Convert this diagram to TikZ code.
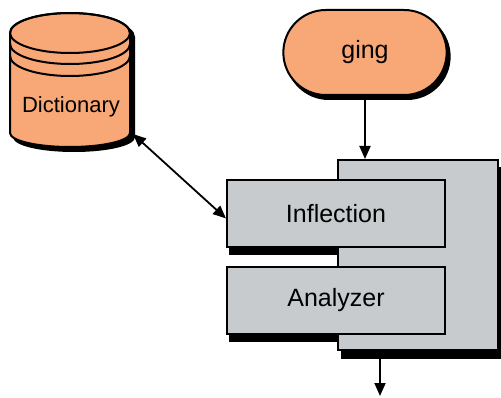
\documentclass[tikz,border=0pt]{standalone}
\usepackage{fontspec}
\setmainfont{Liberation Sans}
\usetikzlibrary{arrows.meta,shapes.misc,shadows,backgrounds}
\definecolor{dictorange}{RGB}{248,168,118}
\definecolor{boxgray}{RGB}{199,203,205}
\begin{document}
\begin{tikzpicture}[x=1pt,y=1pt,
        outline/.style={draw=black,line width=2pt},
        blackshadow/.style 2 args={general shadow={shadow xshift=#1,shadow yshift=-#2,fill=black,draw=black,line width=2pt}},
        box/.style={outline,fill=boxgray,minimum width=218pt,minimum height=67pt,inner sep=0pt,font=\fontsize{25}{30}\selectfont},
        flow/.style={line width=1.8pt,-{Triangle[length=13pt,width=11pt]}}]
        \useasboundingbox (0,0) rectangle (501,397);
        %% Dictionary store
        \foreach \dx/\col in {4/black,0/dictorange}
            \path[outline,fill=\col,shift={(\dx,-\dx)}] (10,364) -- (10,264)
                arc[start angle=180,end angle=360,x radius=60pt,y radius=14pt] -- (130,364)
                arc[start angle=0,end angle=180,x radius=60pt,y radius=20pt] -- cycle;
        \draw[outline] (70,364) ellipse[x radius=60pt,y radius=20pt];
        \foreach \y in {353,341}
            \draw[outline] (10,\y) arc[start angle=180,end angle=360,x radius=60pt,y radius=20pt];
        \node[font=\fontsize{22}{26}\selectfont] (dict) at (71,290) {Dictionary};
        \coordinate (dictport) at (133,263);
        %% Input word
        \node[outline,rounded rectangle,fill=dictorange,minimum width=170pt,minimum height=85pt,
            blackshadow={3pt}{4pt},font=\fontsize{25}{30}\selectfont] (ging) at (365,344.5) {ging};
        %% Analyzer block
        \node[outline,fill=boxgray,minimum width=160pt,minimum height=190pt,blackshadow={4pt}{8pt}] (morph) at (418,142) {};
        \node[box] (inflection) at (336,183.5) {Inflection};
        \node[box] (analyzer) at (336,97) {Analyzer};
        \begin{scope}[on background layer]
            \foreach \n in {inflection,analyzer}
                \fill ([shift={(3,-7)}]\n.south west) rectangle ([shift={(4,-8)}]\n.north east);
        \end{scope}
        %% Arrows
        \coordinate (out) at (380,1);
        \draw[flow] (ging.south) -- (ging.south |- morph.north);
        \draw[flow,{Triangle[length=13pt,width=11pt]}-{Triangle[length=13pt,width=11pt]}] (dictport) -- ([yshift=-5pt]inflection.west);
        \draw[flow] (morph.south -| out) -- (out);
    \end{tikzpicture}
\end{document}
